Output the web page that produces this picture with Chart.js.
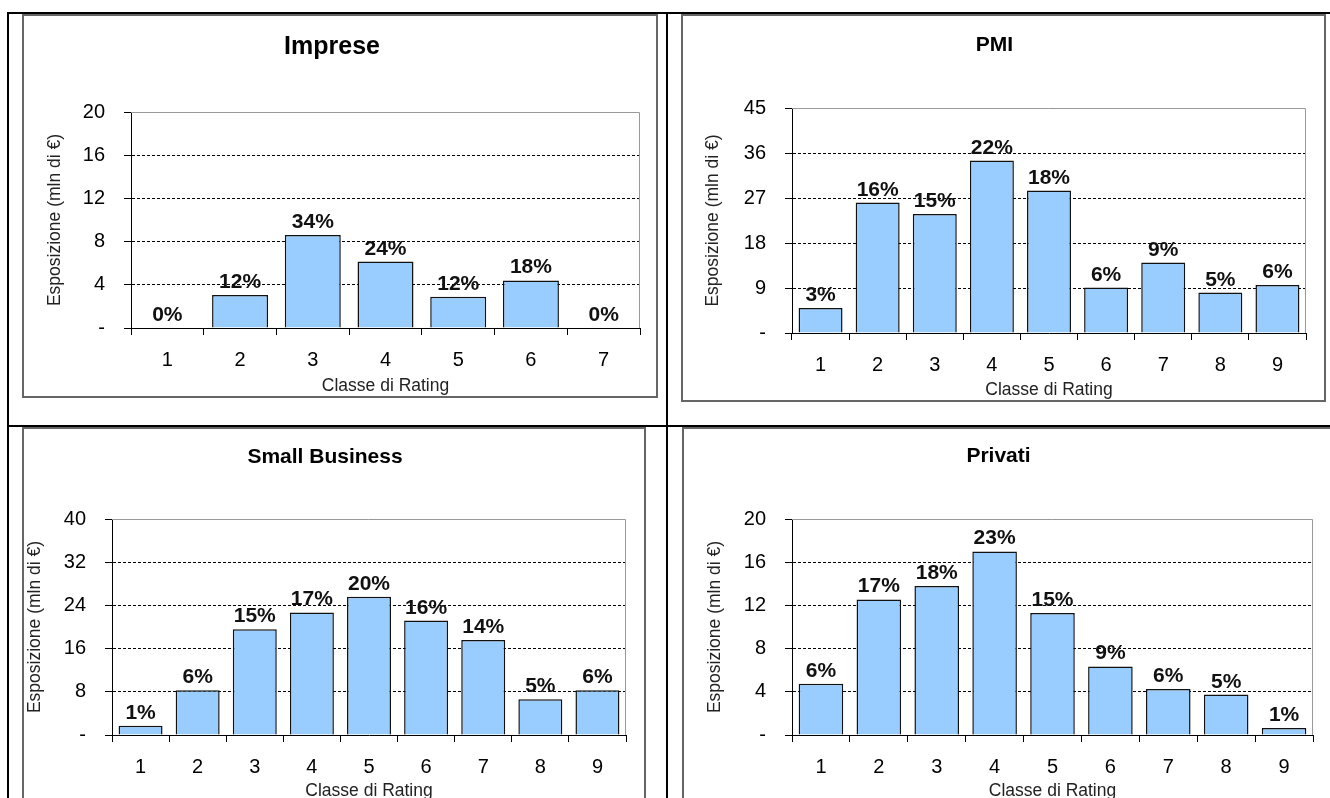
<!DOCTYPE html>
<html>
<head>
<meta charset="utf-8">
<script src="https://cdn.jsdelivr.net/npm/chart.js@4.4.0/dist/chart.umd.min.js"></script>
<style>
  body { margin: 0; background: #fff; width: 1330px; height: 798px; overflow: hidden; position: relative; font-family: 'Liberation Sans', Arial, sans-serif; }
  .line { position: absolute; background: #000; }
  .box { position: absolute; border: 2px solid #666; background: #fff; overflow: hidden; }
  .box canvas { display: block; }
</style>
</head>
<body>
<div class="line" style="left:7px;top:12px;width:1323px;height:2px"></div>
<div class="line" style="left:7px;top:12px;width:2px;height:786px"></div>
<div class="line" style="left:666px;top:12px;width:2px;height:786px"></div>
<div class="line" style="left:7px;top:425px;width:1323px;height:2px"></div>

<div class="box" style="left:22px;top:14px;width:632px;height:380px"><canvas id="impreseChart" width="632" height="380"></canvas></div>
<div class="box" style="left:681px;top:14px;width:641px;height:384px"><canvas id="pmiChart" width="641" height="384"></canvas></div>
<div class="box" style="left:22px;top:427px;width:620px;height:372px"><canvas id="smallChart" width="620" height="372"></canvas></div>
<div class="box" style="left:682px;top:427px;width:647px;height:372px"><canvas id="privatiChart" width="647" height="372"></canvas></div>

<script>
// rating classes
const classes7 = ['1', '2', '3', '4', '5', '6', '7'];
const classes9 = ['1', '2', '3', '4', '5', '6', '7', '8', '9'];

// esposizione (mln di €)
const impreseValues = [0, 3.05, 8.6, 6.15, 2.9, 4.4, 0];
const pmiValues = [5.0, 26.1, 23.8, 34.5, 28.5, 9.1, 14.1, 8.1, 9.6];
const smallValues = [1.7, 8.3, 19.6, 22.7, 25.6, 21.2, 17.6, 6.6, 8.3];
const privatiValues = [4.75, 12.55, 13.8, 17.0, 11.3, 6.35, 4.25, 3.75, 0.65];

// percent labels above the bars
const implresePct = ['0%', '12%', '34%', '24%', '12%', '18%', '0%'];
const pmiPct = ['3%', '16%', '15%', '22%', '18%', '6%', '9%', '5%', '6%'];
const smallPct = ['1%', '6%', '15%', '17%', '20%', '16%', '14%', '5%', '6%'];
const privatiPct = ['6%', '17%', '18%', '23%', '15%', '9%', '6%', '5%', '1%'];

// y axis ticks
const impreseTicks = [0, 4, 8, 12, 16, 20];
const pmiTicks = [0, 9, 18, 27, 36, 45];
const smallTicks = [0, 8, 16, 24, 32, 40];
const privatiTicks = [0, 4, 8, 12, 16, 20];

const FONT = "'Liberation Sans', Arial, sans-serif";

// gray frame on top and right of the plot area
const framePlugin = {
    id: 'frame',
    beforeDatasetsDraw(chart) {
        const { ctx, chartArea: a } = chart;
        ctx.save();
        ctx.strokeStyle = '#999';
        ctx.lineWidth = 1;
        ctx.beginPath();
        ctx.moveTo(a.left, a.top + 0.5);
        ctx.lineTo(a.right - 0.5, a.top + 0.5);
        ctx.lineTo(a.right - 0.5, a.bottom);
        ctx.stroke();
        ctx.restore();
    }
};

// percent labels over each bar
const pctPlugin = {
    id: 'pct',
    afterDatasetsDraw(chart, args, opts) {
        const ctx = chart.ctx;
        const meta = chart.getDatasetMeta(0);
        ctx.save();
        ctx.font = 'bold 21px ' + FONT;
        ctx.fillStyle = '#111';
        ctx.textAlign = 'center';
        ctx.textBaseline = 'alphabetic';
        meta.data.forEach((bar, i) => {
            ctx.fillText(opts.labels[i], bar.x, bar.y - 7);
        });
        ctx.restore();
    }
};

function makeChart(id, title, labels, values, pct, ticks, g) {
    const max = ticks[ticks.length - 1];
    const ctx = document.getElementById(id).getContext('2d');
    return new Chart(ctx, {
        type: 'bar',
        data: {
            labels: labels,
            datasets: [{
                data: values,
                backgroundColor: '#99CCFF',
                borderColor: '#111',
                borderWidth: 1.5,
                barPercentage: 0.77,
                categoryPercentage: 1
            }]
        },
        options: {
            responsive: false,
            animation: false,
            devicePixelRatio: 1,
            layout: { padding: { left: 0, right: g.padRight, top: 0, bottom: 0 } },
            plugins: {
                legend: { display: false },
                tooltip: { enabled: false },
                title: {
                    display: true,
                    text: title,
                    color: '#000',
                    font: { family: FONT, size: g.titleSize, weight: 'bold', lineHeight: 1.2 },
                    padding: { top: g.titleTop, bottom: g.titleBottom }
                },
                pct: { labels: pct }
            },
            scales: {
                x: {
                    grid: { drawOnChartArea: false, color: '#000', tickColor: '#000', tickLength: 7, offset: true },
                    border: { color: '#000', width: 1 },
                    ticks: { color: '#000', font: { family: FONT, size: 20 }, padding: 13 },
                    title: {
                        display: true,
                        text: 'Classe di Rating',
                        color: '#222',
                        font: { family: FONT, size: 17.5, lineHeight: 1.2 },
                        padding: { top: 0, bottom: -1 }
                    },
                    afterFit: s => { s.height = g.xHeight; }
                },
                y: {
                    min: 0,
                    max: max,
                    afterBuildTicks: s => { s.ticks = ticks.map(v => ({ value: v })); },
                    ticks: {
                        color: '#000',
                        font: { family: FONT, size: 20 },
                        padding: 19,
                        callback: v => v === 0 ? '-' : v
                    },
                    grid: {
                        color: c => (c.tick && c.tick.value > 0 && c.tick.value < max) ? '#000' : 'rgba(0,0,0,0)',
                        tickColor: '#000',
                        tickLength: 7,
                        lineWidth: 1
                    },
                    border: { color: '#000', width: 1, dash: [3, 2] },
                    title: {
                        display: true,
                        text: 'Esposizione (mln di €)',
                        color: '#222',
                        font: { family: FONT, size: 17.5, lineHeight: 1.2 },
                        padding: { top: g.yTitlePad, bottom: 0 }
                    },
                    afterFit: s => { s.width = g.yWidth; }
                }
            }
        },
        plugins: [framePlugin, pctPlugin]
    });
}

makeChart('impreseChart', 'Imprese', classes7, impreseValues, implresePct, impreseTicks,
    { yWidth: 107, xHeight: 68, padRight: 16, titleSize: 25, titleTop: 16, titleBottom: 50, yTitlePad: 20.5 });
makeChart('pmiChart', 'PMI', classes9, pmiValues, pmiPct, pmiTicks,
    { yWidth: 109, xHeight: 67, padRight: 18, titleSize: 21, titleTop: 17, titleBottom: 49.8, yTitlePad: 19.5 });
makeChart('smallChart', 'Small Business', classes9, smallValues, smallPct, smallTicks,
    { yWidth: 88, xHeight: 66, padRight: 18, titleSize: 21, titleTop: 15.4, titleBottom: 49.4, yTitlePad: 0.5 });
makeChart('privatiChart', 'Privati', classes9, privatiValues, privatiPct, privatiTicks,
    { yWidth: 108, xHeight: 66, padRight: 18, titleSize: 21, titleTop: 14.4, titleBottom: 50.4, yTitlePad: 20.5 });
</script>
</body>
</html>
